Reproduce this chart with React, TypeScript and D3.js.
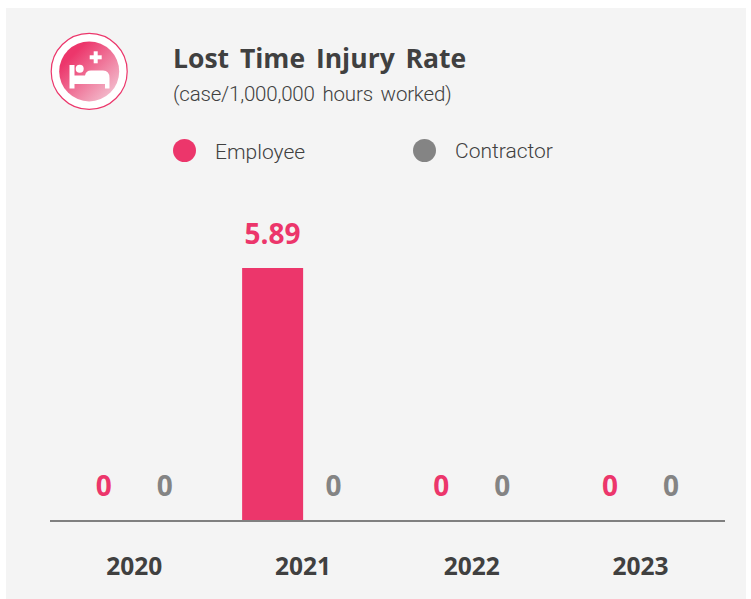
import React from "react";
import * as d3 from "d3";

const years = ["2020", "2021", "2022", "2023"];
const employee = [0, 5.89, 0, 0];
const contractor = [0, 0, 0, 0];
const seriesNames = ["Employee", "Contractor"];
const seriesColors = ["#EC366B", "#848484"];
const titleText = "Lost Time Injury Rate";
const subtitleText = "(case/1,000,000 hours worked)";

const W = 751, H = 599;
const axisY = 520;
const x = d3.scaleBand<string>().domain(years).range([50, 725]);
const sub = d3.scaleBand<number>().domain([0, 1]).range([x.bandwidth() / 2 - 61, x.bandwidth() / 2 + 61]);
const y = d3.scaleLinear().domain([0, 5.89]).range([axisY, 268]);
const bold = "'Open Sans', sans-serif";
const light = "Roboto, sans-serif";

export default function App() {
  const series = [employee, contractor];
  return (
    <svg width={W} height={H} style={{ position: "fixed", left: 0, top: 0, background: "#fff" }}>
      <defs>
        <linearGradient id="ic" x1="0.15" y1="0.15" x2="0.9" y2="0.9">
          <stop offset="0.1" stopColor="#EC366B" />
          <stop offset="1" stopColor="#F3BFCF" />
        </linearGradient>
      </defs>
      <rect x={6} y={8} width={740} height={591} fill="#F4F4F4" />
      <circle cx={89.2} cy={71.4} r={38} fill="#fff" stroke="#EC366B" strokeWidth={1.2} />
      <circle cx={89.2} cy={71.4} r={30} fill="url(#ic)" />
      <g fill="#fff">
        <rect x={69.5} y={65} width={5} height={23.5} />
        <circle cx={79.7} cy={68.7} r={4} />
        <path d="M74 75.5 L85 75.5 Q86 70.5 91 70.5 L103 70.5 Q109.5 70.5 109.5 78 L109.5 88.5 L105 88.5 L105 84 L74 84 Z" />
        <rect x={89.7} y={55.3} width={12} height={4} />
        <rect x={93.7} y={51.3} width={4} height={12} />
      </g>
      <text x={173} y={67.5} fontFamily={bold} fontWeight={700} fontSize={26.5} fill="#404040" wordSpacing={4}>{titleText}</text>
      <text x={173} y={101} fontFamily={light} fontWeight={300} fontSize={20.5} fill="#404040" letterSpacing={-0.2} wordSpacing={3}>{subtitleText}</text>
      {seriesNames.map((n, i) => (
        <g key={n}>
          <circle cx={i === 0 ? 184.5 : 424.5} cy={150.5} r={11.5} fill={seriesColors[i]} />
          <text x={i === 0 ? 215 : 455} y={i === 0 ? 159 : 158} fontFamily={light} fontWeight={300} fontSize={21} fill="#404040">{n}</text>
        </g>
      ))}
      {years.map((yr, i) => (
        <g key={yr} transform={`translate(${x(yr)},0)`}>
          {series.map((s, k) => (
            <g key={k}>
              {s[i] > 0 && (
                <rect x={sub(k)} y={y(s[i])} width={sub.bandwidth()} height={axisY - y(s[i])} fill={seriesColors[k]} />
              )}
              <text
                x={sub(k)! + sub.bandwidth() / 2}
                y={y(s[i]) - 24.5}
                textAnchor="middle"
                fontFamily={bold}
                fontWeight={700}
                fontSize={28}
                fill={seriesColors[k]}
              >
                {s[i]}
              </text>
            </g>
          ))}
          <text x={x.bandwidth() / 2} y={575} textAnchor="middle" fontFamily={bold} fontWeight={700} fontSize={24.5} fill="#404040">{yr}</text>
        </g>
      ))}
      <line x1={50} x2={725} y1={521} y2={521} stroke="#808080" strokeWidth={2} />
    </svg>
  );
}
